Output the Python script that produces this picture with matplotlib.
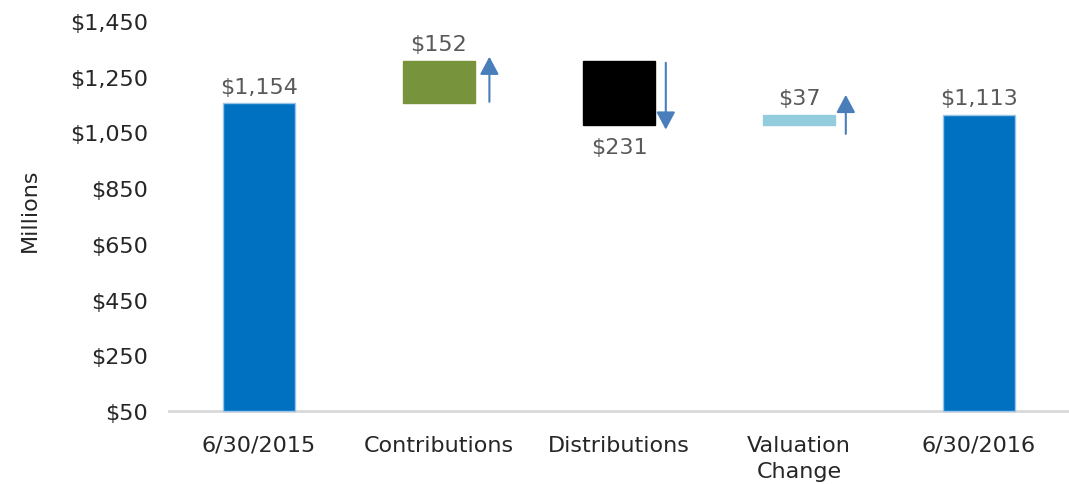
import matplotlib.pyplot as plt
from matplotlib.patches import FancyArrowPatch

categories = ['6/30/2015', 'Contributions', 'Distributions', 'Valuation\nChange', '6/30/2016']
start_value = 1154
changes = [152, -231, 37]
end_value = 1113
bar_colors = ['#0070C0', '#77933C', '#000000', '#93CDDD', '#0070C0']
y_ticks = [50, 250, 450, 650, 850, 1050, 1250, 1450]

plt.rcParams['font.family'] = ['DejaVu Sans']

fig = plt.figure(figsize=(10.69, 4.85), dpi=100)
ax = fig.add_axes([169 / 1069, 0.1505, 1 - 169 / 1069, 0.8041])

# waterfall: bottoms and heights
bottoms = [50]
heights = [start_value - 50]
level = start_value
for c in changes:
    bottoms.append(min(level, level + c))
    heights.append(abs(c))
    level += c
bottoms.append(50)
heights.append(end_value - 50)

x = range(len(categories))
for i in x:
    edge = '#9DC3E6' if bar_colors[i] == '#0070C0' else bar_colors[i]
    ax.bar(i, heights[i], bottom=bottoms[i], width=0.4, color=bar_colors[i],
           edgecolor=edge, linewidth=1, clip_on=False, zorder=2)

fs = 16
lab_kw = dict(textcoords='offset points', ha='center', fontsize=fs, color='#595959')
ax.annotate('$1,154', (0, start_value), xytext=(0, 5), va='bottom', **lab_kw)
ax.annotate('$1,113', (4, end_value), xytext=(0, 5), va='bottom', **lab_kw)

level = start_value
arrow_ext = [(6, 16), (6, 15), (-30, 73)]
for k, c in enumerate(changes):
    i = k + 1
    top = bottoms[i] + heights[i]
    if c > 0:
        ax.annotate('${:,}'.format(abs(c)), (i, top), xytext=(0, 5), va='bottom', **lab_kw)
        y0, y1 = level + arrow_ext[k][0], level + c + arrow_ext[k][1]
        xo = 0.28 if k == 0 else 0.26
    else:
        ax.annotate('${:,}'.format(abs(c)), (i, bottoms[i]), xytext=(0, -8), va='top', **lab_kw)
        y0, y1 = level - arrow_ext[k][0], level + c - arrow_ext[k][1]
        xo = 0.26
    arr = FancyArrowPatch((i + xo, y0), (i + xo, y1),
                          arrowstyle='-|>,head_length=0.9,head_width=0.48',
                          mutation_scale=12, lw=1.5, color='#4A7EBB',
                          shrinkA=0, shrinkB=0, zorder=3)
    ax.add_patch(arr)
    level += c

ax.set_xlim(-0.5, 4.5)
ax.set_ylim(50, 1450)
ax.set_xticks(list(x))
ax.set_xticklabels(categories, fontsize=fs, color='#262626', linespacing=1.42)
ax.set_yticks(y_ticks)
ax.set_yticklabels(['${:,}'.format(v) for v in y_ticks], fontsize=fs, color='#262626')
ax.tick_params(axis='both', length=0)
ax.tick_params(axis='y', pad=15)
ax.tick_params(axis='x', pad=17)

for s in ['top', 'right', 'left']:
    ax.spines[s].set_visible(False)
ax.spines['bottom'].set_color('#D9D9D9')
ax.spines['bottom'].set_linewidth(2)
ax.spines['bottom'].set_zorder(1)

fig.text(30 / 1069, 1 - 210 / 485, 'Millions', rotation=90, ha='center', va='center',
         fontsize=fs, color='#262626')

fig.savefig('out.png', dpi=100)
